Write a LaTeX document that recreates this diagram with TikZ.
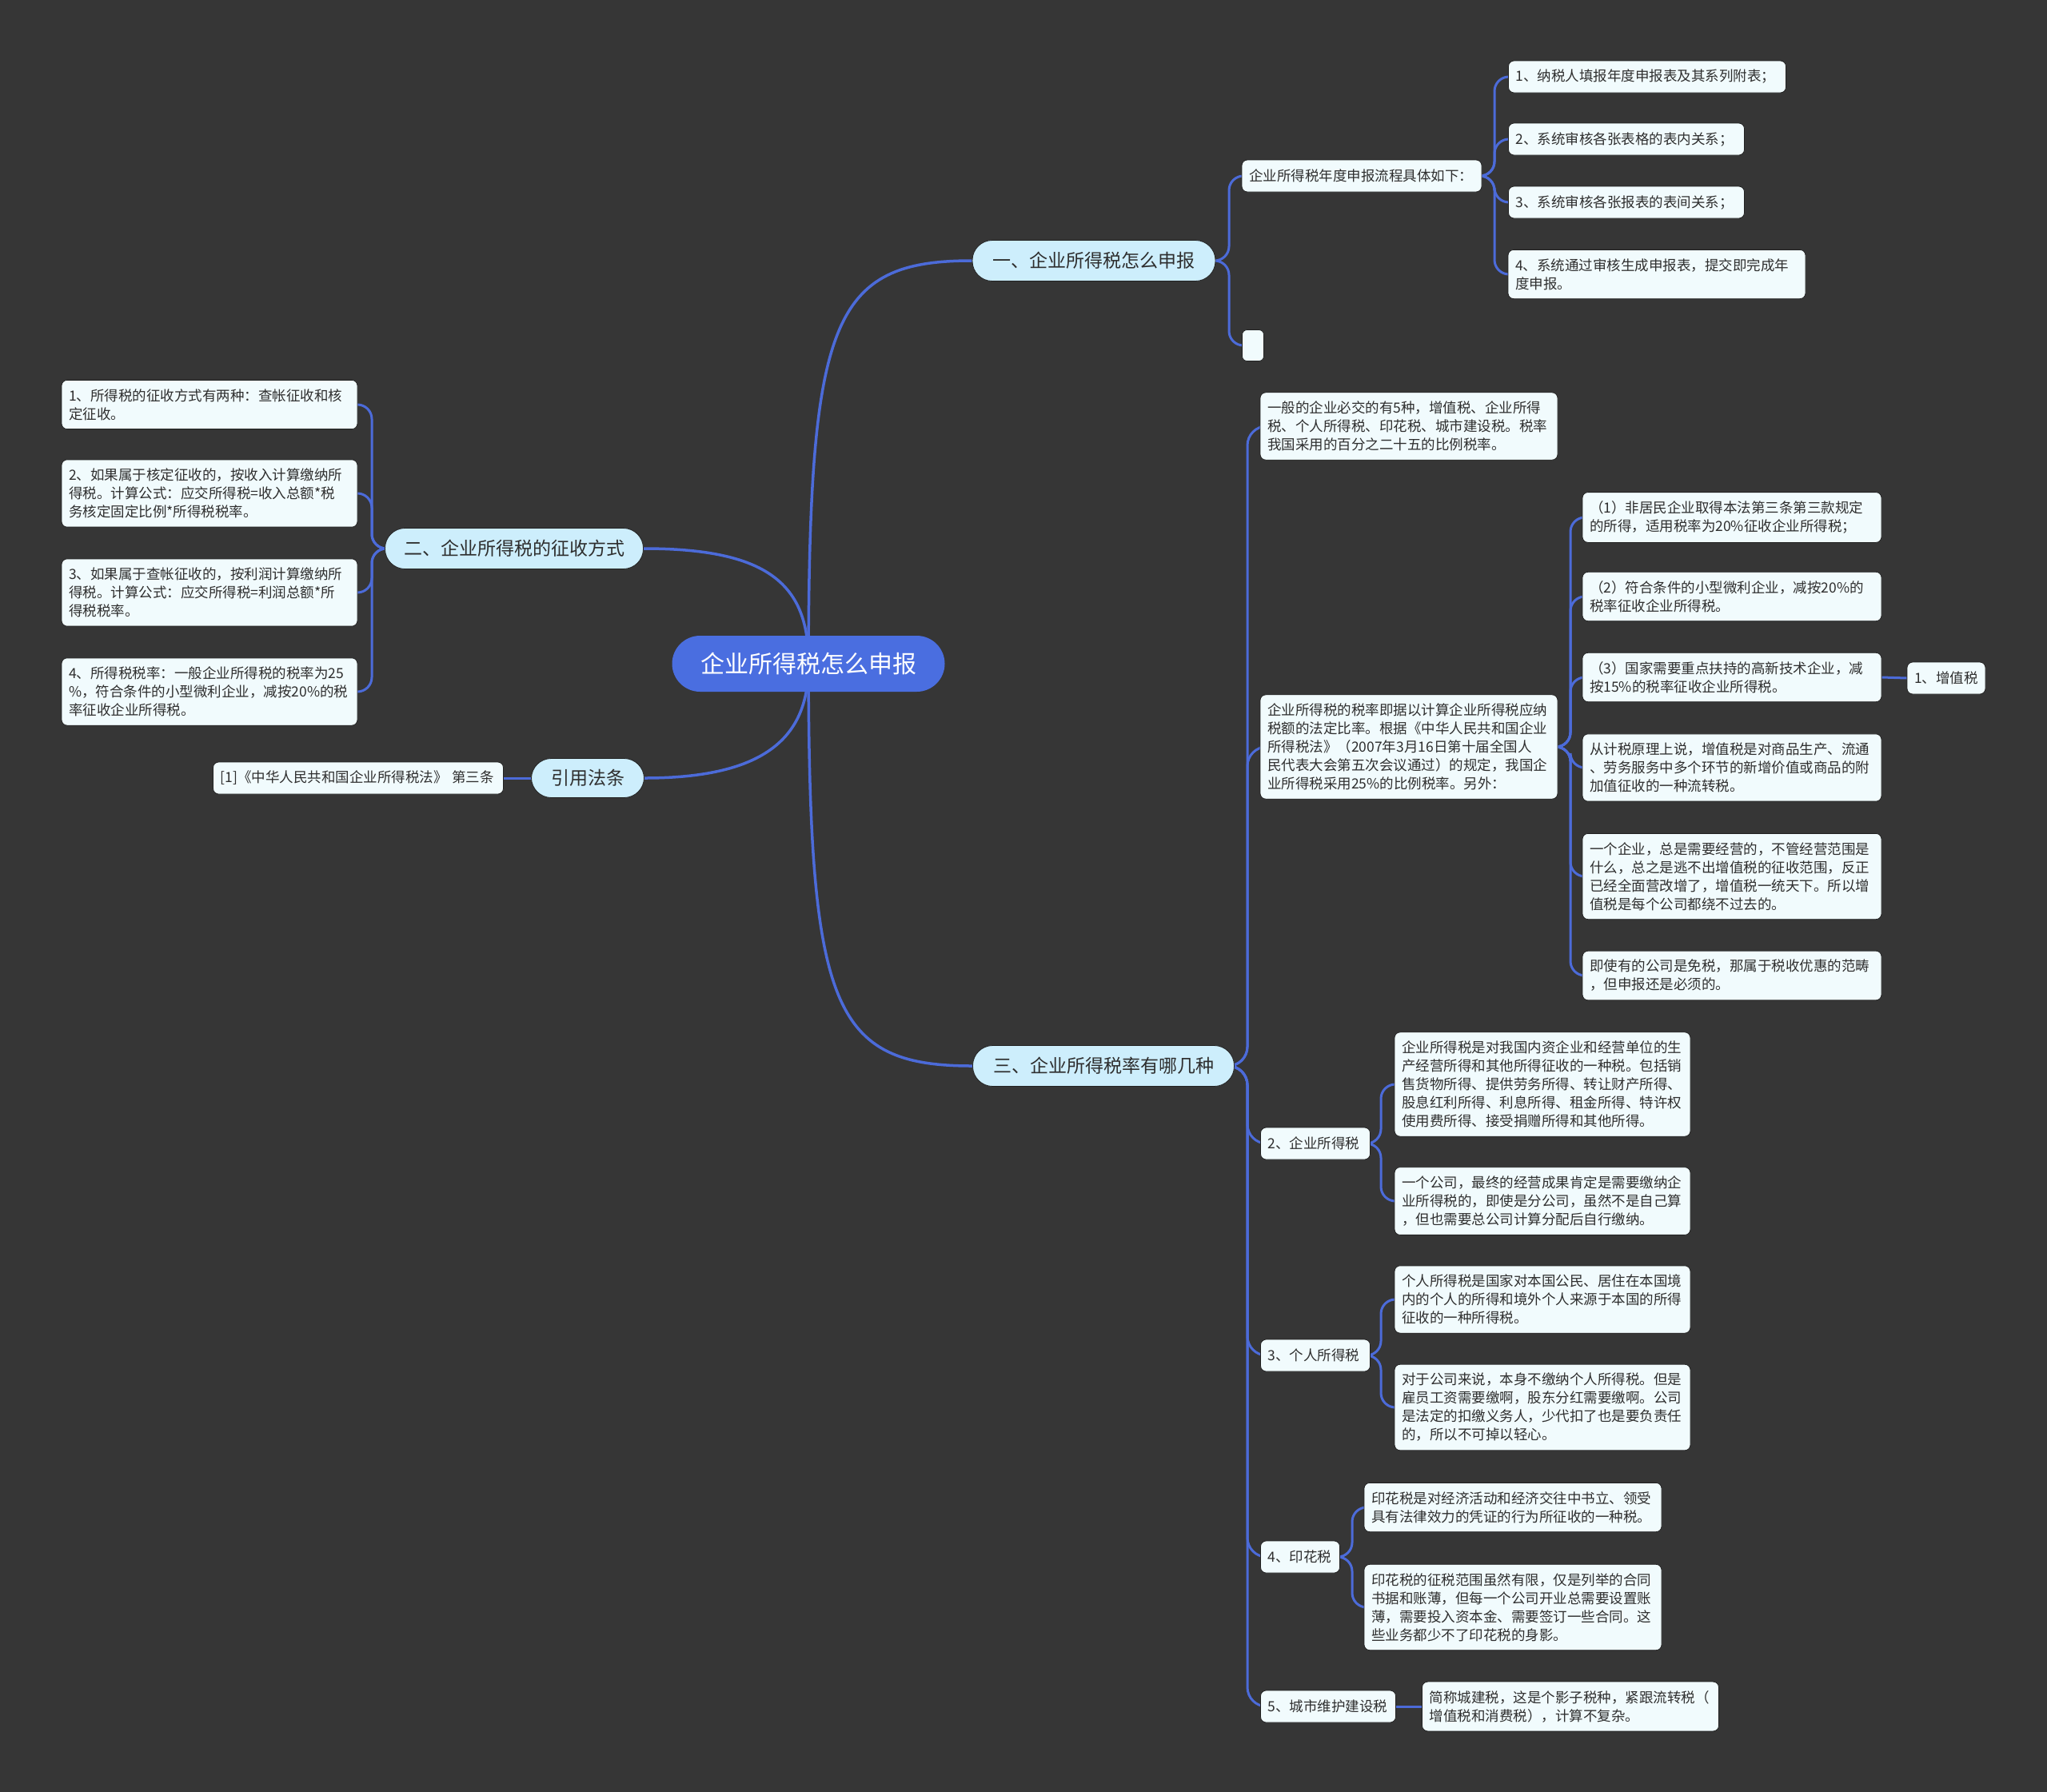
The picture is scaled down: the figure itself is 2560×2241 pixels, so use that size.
\documentclass[tikz,border=0pt]{standalone}
\usepackage{fontspec}
\setmainfont{Noto Sans CJK SC}
\usetikzlibrary{backgrounds}
\definecolor{bgc}{HTML}{363636}
\definecolor{linec}{HTML}{4C6BD9}
\definecolor{leafc}{HTML}{F1FBFD}
\definecolor{brc}{HTML}{CDEEFC}
\definecolor{cenc}{HTML}{4A6EE0}
\definecolor{txtc}{HTML}{2E2E2E}
\definecolor{edgec}{HTML}{222222}
\tikzset{
  leaf/.style={draw=edgec, line width=0.8pt, fill=leafc, rounded corners=7pt, text=txtc,
    font=\fontsize{17.5}{23}\selectfont, inner xsep=9pt, inner ysep=11pt, align=left, minimum height=40pt},
  branch/.style={draw=edgec, line width=0.8pt, fill=brc, rounded corners=25pt, text=txtc,
    font=\fontsize{23}{28}\selectfont, minimum height=51pt, inner sep=0pt},
  rootnode/.style={fill=cenc, rounded corners=35pt, text=white,
    font=\fontsize{30}{36}\selectfont, minimum height=70pt, minimum width=341pt, inner sep=0pt},
  link/.style={draw=linec, line width=3pt, rounded corners=18pt},
  mainlink/.style={draw=linec, line width=3.5pt},
}
\begin{document}
\begin{tikzpicture}[x=1pt,y=-1pt]
\useasboundingbox (0,0) rectangle (2560,2241);
% root and main branches
\node[rootnode] (root) at (1011,830) {企业所得税怎么申报};
\node[branch, minimum width=304pt] (br1) at (1368,326) {一、企业所得税怎么申报};
\node[branch, minimum width=323pt] (br2) at (643,686) {二、企业所得税的征收方式};
\node[branch, minimum width=141pt, minimum height=49pt] (br3) at (735,973) {引用法条};
\node[branch, minimum width=327pt] (br4) at (1380,1333) {三、企业所得税率有哪几种};
% branch one
\node[leaf, text width=282pt] (p1) at (1703,220) {企业所得税年度申报流程具体如下：};
\node[leaf, text width=329pt] (p1a) at (2060,96) {1、纳税人填报年度申报表及其系列附表；};
\node[leaf, text width=277pt] (p1b) at (2034,174) {2、系统审核各张表格的表内关系；};
\node[leaf, text width=277pt] (p1c) at (2034,253) {3、系统审核各张报表的表间关系；};
\node[leaf, text width=354pt] (p1d) at (2072,343) {4、系统通过审核生成申报表，提交即完成年\\度申报。};
\node[leaf, inner sep=0pt, minimum width=27pt, minimum height=39pt, rounded corners=6pt] (p2) at (1567,432) {};
% branch two
\node[leaf, text width=352pt] (l1) at (262,506) {1、所得税的征收方式有两种：查帐征收和核\\定征收。};
\node[leaf, text width=352pt] (l2) at (262,617) {2、如果属于核定征收的，按收入计算缴纳所\\得税。计算公式：应交所得税=收入总额*税\\务核定固定比例*所得税税率。};
\node[leaf, text width=352pt] (l3) at (262,741) {3、如果属于查帐征收的，按利润计算缴纳所\\得税。计算公式：应交所得税=利润总额*所\\得税税率。};
\node[leaf, text width=352pt] (l4) at (262,865) {4、所得税税率：一般企业所得税的税率为25\\\%，符合条件的小型微利企业，减按20\%的税\\率征收企业所得税。};
% citation
\node[leaf, text width=345pt] (ref) at (448,973) {[1]《中华人民共和国企业所得税法》 第三条};
% branch three
\node[leaf, text width=354pt] (ta) at (1762,533) {一般的企业必交的有5种，增值税、企业所得\\税、个人所得税、印花税、城市建设税。税率\\我国采用的百分之二十五的比例税率。};
\node[leaf, text width=354pt] (tb) at (1762,934) {企业所得税的税率即据以计算企业所得税应纳\\税额的法定比率。根据《中华人民共和国企业\\所得税法》（2007年3月16日第十届全国人\\民代表大会第五次会议通过）的规定，我国企\\业所得税采用25\%的比例税率。另外：};
\node[leaf, text width=356pt] (b1) at (2166,647) {（1）非居民企业取得本法第三条第三款规定\\的所得，适用税率为20\%征收企业所得税；};
\node[leaf, text width=356pt] (b2) at (2166,746) {（2）符合条件的小型微利企业，减按20\%的\\税率征收企业所得税。};
\node[leaf, text width=356pt] (b3) at (2166,847) {（3）国家需要重点扶持的高新技术企业，减\\按15\%的税率征收企业所得税。};
\node[leaf, text width=356pt] (b4) at (2166,960) {从计税原理上说，增值税是对商品生产、流通\\、劳务服务中多个环节的新增价值或商品的附\\加值征收的一种流转税。};
\node[leaf, text width=356pt] (b5) at (2166,1096) {一个企业，总是需要经营的，不管经营范围是\\什么，总之是逃不出增值税的征收范围，反正\\已经全面营改增了，增值税一统天下。所以增\\值税是每个公司都绕不过去的。};
\node[leaf, text width=356pt] (b6) at (2166,1220) {即使有的公司是免税，那属于税收优惠的范畴\\，但申报还是必须的。};
\node[leaf, text width=80pt] (vat) at (2434,848) {1、增值税};
\node[leaf, text width=119pt] (tc) at (1645,1430) {2、企业所得税};
\node[leaf, text width=352pt] (c1) at (1929,1356) {企业所得税是对我国内资企业和经营单位的生\\产经营所得和其他所得征收的一种税。包括销\\售货物所得、提供劳务所得、转让财产所得、\\股息红利所得、利息所得、租金所得、特许权\\使用费所得、接受捐赠所得和其他所得。};
\node[leaf, text width=352pt] (c2) at (1929,1502) {一个公司，最终的经营成果肯定是需要缴纳企\\业所得税的，即使是分公司，虽然不是自己算\\，但也需要总公司计算分配后自行缴纳。};
\node[leaf, text width=119pt] (td) at (1645,1695) {3、个人所得税};
\node[leaf, text width=352pt] (d1) at (1929,1625) {个人所得税是国家对本国公民、居住在本国境\\内的个人的所得和境外个人来源于本国的所得\\征收的一种所得税。};
\node[leaf, text width=352pt] (d2) at (1929,1760) {对于公司来说，本身不缴纳个人所得税。但是\\雇员工资需要缴啊，股东分红需要缴啊。公司\\是法定的扣缴义务人，少代扣了也是要负责任\\的，所以不可掉以轻心。};
\node[leaf, text width=81pt] (te) at (1626,1947) {4、印花税};
\node[leaf, text width=354pt] (e1) at (1892,1885) {印花税是对经济活动和经济交往中书立、领受\\具有法律效力的凭证的行为所征收的一种税。};
\node[leaf, text width=354pt] (e2) at (1892,2010) {印花税的征税范围虽然有限，仅是列举的合同\\书据和账薄，但每一个公司开业总需要设置账\\薄，需要投入资本金、需要签订一些合同。这\\些业务都少不了印花税的身影。};
\node[leaf, text width=151pt] (tf) at (1661,2134) {5、城市维护建设税};
\node[leaf, text width=353pt] (f1) at (1964,2134) {简称城建税，这是个影子税种，紧跟流转税（\\增值税和消费税），计算不复杂。};
% connectors
\begin{pgfonlayer}{background}
\fill[bgc] (0,0) rectangle (2560,2241);
\draw[mainlink] (root.center) .. controls (1012,400) and (1040,326) .. (br1.west);
\draw[mainlink] (br2.east) .. controls (960,686) and (1012,730) .. (root.center);
\draw[mainlink] (br3.east) .. controls (960,973) and (1012,920) .. (root.center);
\draw[mainlink] (root.center) .. controls (1012,1260) and (1040,1333) .. (br4.west);
% branch one
\draw[link] (br1.east) -- (1537,326) -- (1537,220) -- (p1.west);
\draw[link] (br1.east) -- (1537,326) -- (1537,432) -- (p2.west);
\draw[link] (p1.east) -- (1869,220) -- (1869,96) -- (p1a.west);
\draw[link] (p1.east) -- (1869,220) -- (1869,174) -- (p1b.west);
\draw[link] (p1.east) -- (1869,220) -- (1869,253) -- (p1c.west);
\draw[link] (p1.east) -- (1869,220) -- (1869,343) -- (p1d.west);
% branch two
\draw[link] (br2.west) -- (465,686) -- (465,506) -- (l1.east);
\draw[link] (br2.west) -- (465,686) -- (465,617) -- (l2.east);
\draw[link] (br2.west) -- (465,686) -- (465,741) -- (l3.east);
\draw[link] (br2.west) -- (465,686) -- (465,865) -- (l4.east);
\draw[link] (br3.west) -- (ref.east);
% branch three
\draw[link, rounded corners=24pt] (br4.east) -- (1560,1333) -- (1560,533) -- (ta.west);
\draw[link, rounded corners=24pt] (br4.east) -- (1560,1333) -- (1560,934) -- (tb.west);
\draw[link, rounded corners=24pt] (br4.east) -- (1560,1333) -- (1560,1430) -- (tc.west);
\draw[link, rounded corners=24pt] (br4.east) -- (1560,1333) -- (1560,1695) -- (td.west);
\draw[link, rounded corners=24pt] (br4.east) -- (1560,1333) -- (1560,1947) -- (te.west);
\draw[link, rounded corners=24pt] (br4.east) -- (1560,1333) -- (1560,2134) -- (tf.west);
\draw[link] (tb.east) -- (1964,934) -- (1964,647) -- (b1.west);
\draw[link] (tb.east) -- (1964,934) -- (1964,746) -- (b2.west);
\draw[link] (tb.east) -- (1964,934) -- (1964,847) -- (b3.west);
\draw[link] (tb.east) -- (1964,934) -- (1964,960) -- (b4.west);
\draw[link] (tb.east) -- (1964,934) -- (1964,1096) -- (b5.west);
\draw[link] (tb.east) -- (1964,934) -- (1964,1220) -- (b6.west);
\draw[link] (b3.east) -- (vat.west);
\draw[link] (tc.east) -- (1727,1430) -- (1727,1356) -- (c1.west);
\draw[link] (tc.east) -- (1727,1430) -- (1727,1502) -- (c2.west);
\draw[link] (td.east) -- (1727,1695) -- (1727,1625) -- (d1.west);
\draw[link] (td.east) -- (1727,1695) -- (1727,1760) -- (d2.west);
\draw[link] (te.east) -- (1691,1947) -- (1691,1885) -- (e1.west);
\draw[link] (te.east) -- (1691,1947) -- (1691,2010) -- (e2.west);
\draw[link] (tf.east) -- (f1.west);
\end{pgfonlayer}
\end{tikzpicture}
\end{document}
